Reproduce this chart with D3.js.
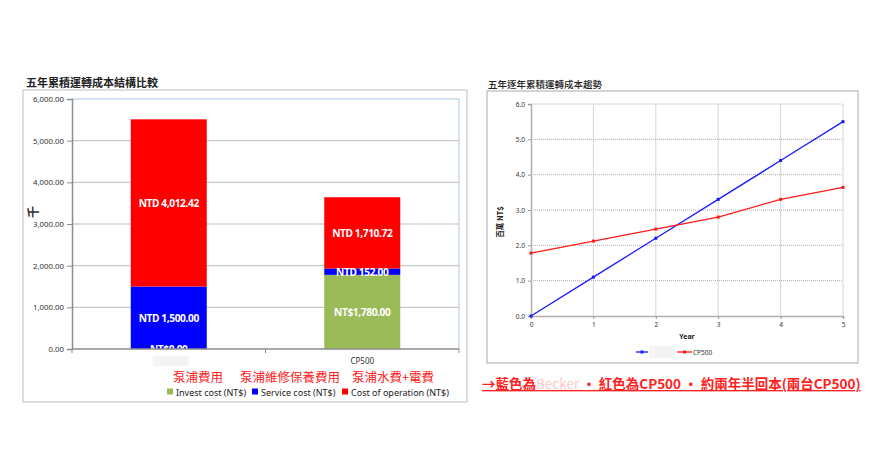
<!DOCTYPE html>
<html>
<head>
<meta charset="utf-8">
<script src="https://cdn.jsdelivr.net/npm/d3@7"></script>
<style>
  body { margin: 0; background: #fff; }
  svg text { font-family: "Noto Sans", "Noto Sans CJK TC", sans-serif; }
  .cjk { font-family: "Noto Sans CJK TC", sans-serif !important; }
</style>
</head>
<body>
<svg id="chart" width="880" height="450"></svg>
<script>
// ---- left chart data (thousand NT$) ----
const categories = ["Becker", "CP500"];
const investCost = [0, 1780];
const serviceCost = [1500, 152];
const operationCost = [4012.42, 1710.72];
const barLabels = [
  ["NT$0.00", "NT$1,780.00"],
  ["NTD 1,500.00", "NTD 152.00"],
  ["NTD 4,012.42", "NTD 1,710.72"]
];
const seriesNames = ["Invest cost (NT$)", "Service cost (NT$)", "Cost of operation (NT$)"];
const seriesNotes = ["泵浦費用", "泵浦維修保養費用", "泵浦水費+電費"];
const yTicksLeft = [0, 1000, 2000, 3000, 4000, 5000, 6000];

// ---- right chart data (million NT$) ----
const years = [0, 1, 2, 3, 4, 5];
const beckerTrend = [0, 1.1, 2.2, 3.3, 4.4, 5.5];
const cp500Trend = [1.78, 2.12, 2.46, 2.8, 3.3, 3.64];
const yTicksRight = [0, 1, 2, 3, 4, 5, 6];

const svg = d3.select("#chart");
const colors = ["#9bbb59", "#0000ff", "#ff0000"];

// ================= left: stacked bars =================
svg.append("rect")
  .attr("x", 23).attr("y", 90).attr("width", 444).attr("height", 312)
  .attr("fill", "none").attr("stroke", "#c8c8c8").attr("stroke-width", 1.2);

svg.append("text").attr("class", "cjk")
  .attr("x", 26).attr("y", 87)
  .attr("font-size", 11).attr("font-weight", "bold").attr("fill", "#222")
  .text("五年累積運轉成本結構比較");

const lx = d3.scaleBand().domain(categories).range([72, 459]).paddingInner(0).paddingOuter(0);
const ly = d3.scaleLinear().domain([0, 6000]).range([349, 99]);

const left = svg.append("g");

// plot area border (light blue top/right)
left.append("path")
  .attr("d", `M72,99 H459 V349`)
  .attr("fill", "none").attr("stroke", "#a9c6e6").attr("stroke-width", 1);

left.append("g")
  .selectAll("line").data(yTicksLeft.filter(d => d > 0 && d < 6000)).join("line")
  .attr("x1", 72).attr("x2", 459)
  .attr("y1", d => ly(d)).attr("y2", d => ly(d))
  .attr("stroke", "#bdbdbd").attr("stroke-width", 1);

const stackData = categories.map((c, i) => ({cat: c, s0: investCost[i], s1: serviceCost[i], s2: operationCost[i]}));
const stack = d3.stack().keys(["s0", "s1", "s2"])(stackData);
const barW = 76;

left.append("defs").append("clipPath").attr("id", "plotclip")
  .append("rect").attr("x", 72).attr("y", 99).attr("width", 387).attr("height", 250);

stack.forEach((layer, si) => {
  left.append("g").selectAll("rect").data(layer).join("rect")
    .attr("x", d => lx(d.data.cat) + lx.bandwidth() / 2 - barW / 2)
    .attr("width", barW)
    .attr("y", d => ly(d[1]))
    .attr("height", d => ly(d[0]) - ly(d[1]))
    .attr("fill", colors[si]);
});

const labelG = left.append("g").attr("clip-path", "url(#plotclip)");
stack.forEach((layer, si) => {
  labelG.selectAll(null).data(layer).join("text")
    .attr("x", d => lx(d.data.cat) + lx.bandwidth() / 2)
    .attr("y", d => (ly(d[0]) + ly(d[1])) / 2 + 4)
    .attr("text-anchor", "middle")
    .attr("font-size", 10.2).attr("font-weight", "bold").attr("fill", "#fff")
    .attr("letter-spacing", -0.4)
    .text((d, i) => barLabels[si][i]);
});

// y axis
const lyAxis = left.append("g").attr("transform", "translate(72,0)")
  .call(d3.axisLeft(ly).tickValues(yTicksLeft).tickSize(5).tickFormat(d3.format(",.2f")));
lyAxis.select(".domain").attr("stroke", "#8c8c8c").attr("stroke-width", 1.5);
lyAxis.selectAll(".tick line").attr("stroke", "#8c8c8c");
lyAxis.selectAll("text").attr("font-size", 7.8).attr("fill", "#333").attr("x", -8);

// x axis
const lxAxis = left.append("g").attr("transform", "translate(0,349)");
lxAxis.append("line").attr("x1", 72).attr("x2", 459).attr("stroke", "#8c8c8c").attr("stroke-width", 1.5);
lxAxis.selectAll("line.t").data([72, lx("CP500"), 459]).join("line").attr("class", "t")
  .attr("x1", d => d).attr("x2", d => d).attr("y1", 0).attr("y2", 4)
  .attr("stroke", "#8c8c8c");
// first category name is masked in the source picture
lxAxis.append("rect")
  .attr("x", lx("Becker") + lx.bandwidth() / 2 - 16).attr("y", 7)
  .attr("width", 36).attr("height", 10).attr("fill", "#f4f4f4");
lxAxis.append("text")
  .attr("x", lx("CP500") + lx.bandwidth() / 2).attr("y", 15)
  .attr("text-anchor", "middle").attr("font-size", 8).attr("fill", "#333")
  .text("CP500");

svg.append("text").attr("class", "cjk")
  .attr("transform", "translate(38,212) rotate(-90)")
  .attr("text-anchor", "middle").attr("font-size", 12).attr("font-weight", "bold").attr("fill", "#333")
  .text("千");

// red notes + legend
const noteX = [173, 240, 352];
svg.append("g").selectAll("text").data(seriesNotes).join("text").attr("class", "cjk")
  .attr("x", (d, i) => noteX[i]).attr("y", 382)
  .attr("font-size", 12.5).attr("fill", "#ff2020")
  .text(d => d);

const legX = [167, 252, 342];
const leg = svg.append("g").selectAll("g").data(seriesNames).join("g")
  .attr("transform", (d, i) => `translate(${legX[i]},392)`);
leg.append("rect").attr("x", 0).attr("y", -3.5).attr("width", 6).attr("height", 6)
  .attr("fill", (d, i) => colors[i]);
leg.append("text").attr("x", 9).attr("y", 3.5)
  .attr("font-size", 9).attr("fill", "#222").text(d => d);

// ================= right: trend lines =================
svg.append("rect")
  .attr("x", 487).attr("y", 91).attr("width", 371).attr("height", 272)
  .attr("fill", "none").attr("stroke", "#b8b8b8").attr("stroke-width", 1.2);

svg.append("text").attr("class", "cjk")
  .attr("x", 488).attr("y", 88)
  .attr("font-size", 9.5).attr("font-weight", 500).attr("fill", "#222")
  .text("五年逐年累積運轉成本趨勢");

const rx = d3.scaleLinear().domain([0, 5]).range([531, 843]);
const ry = d3.scaleLinear().domain([0, 6]).range([316, 104]);
const right = svg.append("g");

right.append("g").selectAll("line").data(years.slice(1)).join("line")
  .attr("x1", d => rx(d)).attr("x2", d => rx(d)).attr("y1", 104).attr("y2", 316)
  .attr("stroke", "#d6d6d6");
right.append("g").selectAll("line").data(yTicksRight.slice(1)).join("line")
  .attr("x1", 531).attr("x2", 843).attr("y1", d => ry(d)).attr("y2", d => ry(d))
  .attr("stroke", "#b0b0b0").attr("stroke-dasharray", "1,1");

const ryAxis = right.append("g").attr("transform", "translate(531,0)")
  .call(d3.axisLeft(ry).tickValues(yTicksRight).tickSize(3).tickFormat(d3.format(".1f")));
ryAxis.select(".domain").attr("stroke", "#b0b0b0").attr("stroke-width", 1.5);
ryAxis.selectAll(".tick line").attr("stroke", "#999");
ryAxis.selectAll("text").attr("font-size", 6.5).attr("fill", "#333");

const rxAxis = right.append("g").attr("transform", "translate(0,316)")
  .call(d3.axisBottom(rx).tickValues(years).tickSize(3).tickFormat(d3.format("d")));
rxAxis.select(".domain").attr("stroke", "#b0b0b0").attr("stroke-width", 1.5);
rxAxis.selectAll(".tick line").attr("stroke", "#999");
rxAxis.selectAll("text").attr("font-size", 6.5).attr("fill", "#333");

right.append("text").attr("x", 687).attr("y", 339).attr("text-anchor", "middle")
  .attr("font-size", 7).attr("font-weight", "bold").attr("fill", "#222").text("Year");
right.append("text").attr("class", "cjk")
  .attr("transform", "translate(503,222) rotate(-90)")
  .attr("text-anchor", "middle").attr("font-size", 7.5).attr("font-weight", "bold").attr("fill", "#222")
  .text("百萬 NT$");

const line = d3.line().x((d, i) => rx(years[i])).y(d => ry(d));
[[beckerTrend, "#1a1aff"], [cp500Trend, "#ff1a1a"]].forEach(([vals, col]) => {
  right.append("path").datum(vals).attr("d", line)
    .attr("fill", "none").attr("stroke", col).attr("stroke-width", 1.3);
  right.append("g").selectAll("rect").data(vals).join("rect")
    .attr("x", (d, i) => rx(years[i]) - 1.5).attr("y", d => ry(d) - 1.5)
    .attr("width", 3).attr("height", 3).attr("fill", col);
});

// legend
const rl = right.append("g").attr("transform", "translate(636,352)");
rl.append("line").attr("x1", 0).attr("x2", 12).attr("stroke", "#1a1aff").attr("stroke-width", 1.3);
rl.append("rect").attr("x", 4.5).attr("y", -1.5).attr("width", 3).attr("height", 3).attr("fill", "#1a1aff");
rl.append("rect").attr("x", 13).attr("y", -6).attr("width", 26).attr("height", 12).attr("fill", "#f4f4f4");
rl.append("line").attr("x1", 41).attr("x2", 56).attr("stroke", "#ff1a1a").attr("stroke-width", 1.3);
rl.append("rect").attr("x", 47).attr("y", -1.5).attr("width", 3).attr("height", 3).attr("fill", "#ff1a1a");
rl.append("text").attr("x", 57).attr("y", 2.5).attr("font-size", 6.5).attr("fill", "#333").text("CP500");

// bottom note
const note = svg.append("text").attr("class", "cjk")
  .attr("x", 482).attr("y", 389)
  .attr("font-size", 13.5).attr("font-weight", "bold").attr("fill", "#ff2020")
  .attr("text-decoration", "underline");
note.append("tspan").text("→藍色為");
note.append("tspan").attr("fill", "#fbc9c9").attr("font-weight", "normal").text("Becker");
note.append("tspan").text(" · 紅色為CP500 · 約兩年半回本(兩台CP500)");
</script>
</body>
</html>
